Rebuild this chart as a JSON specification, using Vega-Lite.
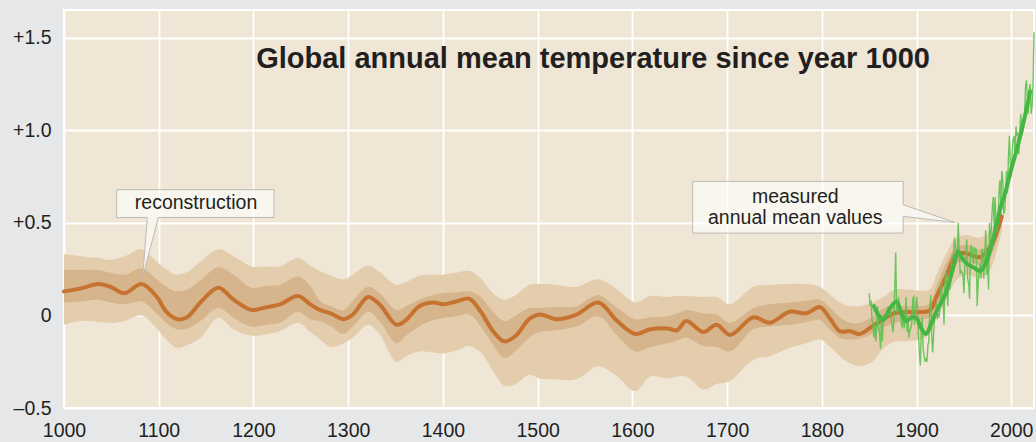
{
"$schema": "https://vega.github.io/schema/vega-lite/v6.json",
"width": 970, "height": 398,
"autosize": {"type": "none"},
"padding": {"left": 64, "top": 10, "right": 2, "bottom": 34},
"background": "#e6e7e8",
"config": {
  "view": {"fill": "#efe6d6", "stroke": "#ffffff", "strokeWidth": 2},
  "axis": {"labelFont": "Liberation Sans", "labelFontSize": 19.5, "labelColor": "#231f20", "gridColor": "#ffffff", "gridWidth": 1.8, "gridOpacity": 1, "ticks": false, "domain": false, "labelPadding": 13, "labelFlush": false, "labelOverlap": false}
},
"datasets": {
  "recon": [
    {"year":1000,"m":0.13,"ilo":0.07,"ihi":0.245,"olo":-0.05,"ohi":0.33},
    {"year":1017,"m":0.145,"ilo":0.075,"ihi":0.245,"olo":-0.03,"ohi":0.32},
    {"year":1036,"m":0.17,"ilo":0.085,"ihi":0.245,"olo":-0.035,"ohi":0.31},
    {"year":1049,"m":0.155,"ilo":0.07,"ihi":0.23,"olo":-0.04,"ohi":0.30},
    {"year":1064,"m":0.12,"ilo":0.06,"ihi":0.22,"olo":-0.03,"ohi":0.32},
    {"year":1082,"m":0.17,"ilo":0.075,"ihi":0.255,"olo":0.0,"ohi":0.357},
    {"year":1098,"m":0.10,"ilo":0.01,"ihi":0.195,"olo":-0.07,"ohi":0.29},
    {"year":1108,"m":0.02,"ilo":-0.04,"ihi":0.155,"olo":-0.13,"ohi":0.25},
    {"year":1119,"m":-0.02,"ilo":-0.075,"ihi":0.13,"olo":-0.175,"ohi":0.22},
    {"year":1130,"m":-0.01,"ilo":-0.07,"ihi":0.14,"olo":-0.16,"ohi":0.235},
    {"year":1144,"m":0.07,"ilo":-0.03,"ihi":0.19,"olo":-0.12,"ohi":0.29},
    {"year":1163,"m":0.15,"ilo":0.04,"ihi":0.26,"olo":-0.012,"ohi":0.357},
    {"year":1179,"m":0.085,"ilo":-0.012,"ihi":0.22,"olo":-0.075,"ohi":0.32},
    {"year":1198,"m":0.03,"ilo":-0.06,"ihi":0.15,"olo":-0.11,"ohi":0.265},
    {"year":1214,"m":0.045,"ilo":-0.05,"ihi":0.16,"olo":-0.10,"ohi":0.265},
    {"year":1228,"m":0.06,"ilo":-0.04,"ihi":0.165,"olo":-0.085,"ohi":0.265},
    {"year":1247,"m":0.105,"ilo":0.02,"ihi":0.21,"olo":-0.04,"ohi":0.31},
    {"year":1260,"m":0.06,"ilo":-0.02,"ihi":0.16,"olo":-0.09,"ohi":0.27},
    {"year":1270,"m":0.03,"ilo":-0.03,"ihi":0.08,"olo":-0.13,"ohi":0.24},
    {"year":1282,"m":0.01,"ilo":-0.06,"ihi":0.05,"olo":-0.17,"ohi":0.215},
    {"year":1295,"m":-0.02,"ilo":-0.10,"ihi":0.03,"olo":-0.15,"ohi":0.195},
    {"year":1305,"m":0.005,"ilo":-0.06,"ihi":0.08,"olo":-0.12,"ohi":0.22},
    {"year":1321,"m":0.10,"ilo":0.02,"ihi":0.155,"olo":-0.05,"ohi":0.27},
    {"year":1333,"m":0.06,"ilo":-0.03,"ihi":0.12,"olo":-0.10,"ohi":0.235},
    {"year":1351,"m":-0.05,"ilo":-0.15,"ihi":0.03,"olo":-0.25,"ohi":0.165},
    {"year":1361,"m":-0.025,"ilo":-0.11,"ihi":0.05,"olo":-0.22,"ohi":0.18},
    {"year":1375,"m":0.05,"ilo":-0.06,"ihi":0.085,"olo":-0.195,"ohi":0.215},
    {"year":1390,"m":0.07,"ilo":-0.025,"ihi":0.11,"olo":-0.20,"ohi":0.22},
    {"year":1400,"m":0.06,"ilo":-0.015,"ihi":0.12,"olo":-0.205,"ohi":0.22},
    {"year":1414,"m":0.075,"ilo":-0.005,"ihi":0.125,"olo":-0.19,"ohi":0.23},
    {"year":1428,"m":0.09,"ilo":0.005,"ihi":0.13,"olo":-0.165,"ohi":0.24},
    {"year":1440,"m":0.02,"ilo":-0.06,"ihi":0.10,"olo":-0.20,"ohi":0.20},
    {"year":1453,"m":-0.085,"ilo":-0.16,"ihi":0.02,"olo":-0.30,"ohi":0.12},
    {"year":1465,"m":-0.14,"ilo":-0.23,"ihi":-0.03,"olo":-0.38,"ohi":0.085},
    {"year":1477,"m":-0.11,"ilo":-0.19,"ihi":0.0,"olo":-0.37,"ohi":0.11},
    {"year":1491,"m":-0.02,"ilo":-0.12,"ihi":0.04,"olo":-0.32,"ohi":0.165},
    {"year":1502,"m":0.005,"ilo":-0.09,"ihi":0.04,"olo":-0.34,"ohi":0.17},
    {"year":1520,"m":-0.02,"ilo":-0.08,"ihi":0.045,"olo":-0.345,"ohi":0.165},
    {"year":1541,"m":0.005,"ilo":-0.06,"ihi":0.05,"olo":-0.345,"ohi":0.155},
    {"year":1564,"m":0.07,"ilo":-0.005,"ihi":0.11,"olo":-0.275,"ohi":0.195},
    {"year":1584,"m":-0.03,"ilo":-0.11,"ihi":0.04,"olo":-0.33,"ohi":0.14},
    {"year":1603,"m":-0.10,"ilo":-0.195,"ihi":-0.02,"olo":-0.41,"ohi":0.07},
    {"year":1619,"m":-0.075,"ilo":-0.17,"ihi":-0.01,"olo":-0.33,"ohi":0.105},
    {"year":1637,"m":-0.07,"ilo":-0.15,"ihi":-0.005,"olo":-0.34,"ohi":0.10},
    {"year":1647,"m":-0.08,"ilo":-0.135,"ihi":0.01,"olo":-0.33,"ohi":0.105},
    {"year":1657,"m":-0.03,"ilo":-0.12,"ihi":0.03,"olo":-0.33,"ohi":0.105},
    {"year":1675,"m":-0.09,"ilo":-0.165,"ihi":0.01,"olo":-0.40,"ohi":0.10},
    {"year":1689,"m":-0.05,"ilo":-0.17,"ihi":0.005,"olo":-0.37,"ohi":0.10},
    {"year":1703,"m":-0.105,"ilo":-0.195,"ihi":-0.04,"olo":-0.355,"ohi":0.06},
    {"year":1728,"m":-0.01,"ilo":-0.075,"ihi":0.04,"olo":-0.24,"ohi":0.155},
    {"year":1745,"m":-0.04,"ilo":-0.06,"ihi":0.06,"olo":-0.22,"ohi":0.165},
    {"year":1766,"m":0.02,"ilo":-0.05,"ihi":0.07,"olo":-0.175,"ohi":0.17},
    {"year":1784,"m":0.012,"ilo":-0.035,"ihi":0.08,"olo":-0.15,"ohi":0.17},
    {"year":1798,"m":0.045,"ilo":-0.025,"ihi":0.085,"olo":-0.13,"ohi":0.155},
    {"year":1809,"m":-0.02,"ilo":-0.08,"ihi":0.04,"olo":-0.17,"ohi":0.11},
    {"year":1819,"m":-0.085,"ilo":-0.12,"ihi":-0.01,"olo":-0.22,"ohi":0.07},
    {"year":1830,"m":-0.085,"ilo":-0.13,"ihi":-0.04,"olo":-0.26,"ohi":0.05},
    {"year":1840,"m":-0.10,"ilo":-0.125,"ihi":-0.04,"olo":-0.275,"ohi":0.05},
    {"year":1853,"m":-0.06,"ilo":-0.10,"ihi":-0.01,"olo":-0.25,"ohi":0.07},
    {"year":1865,"m":-0.02,"ilo":-0.065,"ihi":0.04,"olo":-0.18,"ohi":0.10},
    {"year":1877,"m":0.013,"ilo":-0.04,"ihi":0.05,"olo":-0.14,"ohi":0.14},
    {"year":1889,"m":0.018,"ilo":-0.03,"ihi":0.05,"olo":-0.14,"ohi":0.14},
    {"year":1903,"m":0.018,"ilo":-0.025,"ihi":0.05,"olo":-0.13,"ohi":0.135},
    {"year":1914,"m":0.027,"ilo":-0.01,"ihi":0.065,"olo":-0.10,"ohi":0.14},
    {"year":1921,"m":0.10,"ilo":0.04,"ihi":0.16,"olo":-0.02,"ohi":0.22},
    {"year":1932,"m":0.22,"ilo":0.15,"ihi":0.29,"olo":0.09,"ohi":0.34},
    {"year":1942,"m":0.33,"ilo":0.28,"ihi":0.37,"olo":0.19,"ohi":0.42},
    {"year":1953,"m":0.335,"ilo":0.29,"ihi":0.38,"olo":0.22,"ohi":0.435},
    {"year":1967,"m":0.315,"ilo":0.275,"ihi":0.355,"olo":0.20,"ohi":0.42},
    {"year":1978,"m":0.37,"ilo":0.32,"ihi":0.40,"olo":0.25,"ohi":0.46},
    {"year":1990,"m":0.535,"ilo":0.49,"ihi":0.56,"olo":0.46,"ohi":0.57}
  ],
  "annual": [
    {"year":1850,"t":0.12},{"year":1851,"t":0.05},{"year":1852,"t":0.08},{"year":1853,"t":-0.02},{"year":1854,"t":-0.05},
    {"year":1855,"t":-0.12},{"year":1856,"t":-0.05},{"year":1857,"t":-0.14},{"year":1858,"t":-0.06},{"year":1859,"t":0.05},
    {"year":1860,"t":-0.06},{"year":1861,"t":-0.10},{"year":1862,"t":-0.18},{"year":1863,"t":0.0},{"year":1864,"t":-0.14},
    {"year":1865,"t":0.0},{"year":1866,"t":-0.01},{"year":1867,"t":-0.03},{"year":1868,"t":0.0},{"year":1869,"t":0.01},
    {"year":1870,"t":0.05},{"year":1871,"t":0.0},{"year":1872,"t":0.02},{"year":1873,"t":0.01},{"year":1874,"t":-0.05},
    {"year":1875,"t":-0.09},{"year":1876,"t":-0.04},{"year":1877,"t":0.15},{"year":1878,"t":0.34},{"year":1879,"t":0.03},
    {"year":1880,"t":0.01},{"year":1881,"t":0.10},{"year":1882,"t":0.04},{"year":1883,"t":0.01},{"year":1884,"t":-0.05},
    {"year":1885,"t":-0.06},{"year":1886,"t":0.02},{"year":1887,"t":-0.07},{"year":1888,"t":-0.02},{"year":1889,"t":0.10},
    {"year":1890,"t":-0.09},{"year":1891,"t":-0.02},{"year":1892,"t":-0.12},{"year":1893,"t":-0.08},{"year":1894,"t":-0.07},
    {"year":1895,"t":-0.04},{"year":1896,"t":0.09},{"year":1897,"t":0.10},{"year":1898,"t":-0.05},{"year":1899,"t":0.04},
    {"year":1900,"t":0.10},{"year":1901,"t":0.04},{"year":1902,"t":-0.11},{"year":1903,"t":-0.20},{"year":1904,"t":-0.27},
    {"year":1905,"t":-0.09},{"year":1906,"t":-0.01},{"year":1907,"t":-0.18},{"year":1908,"t":-0.22},{"year":1909,"t":-0.25},
    {"year":1910,"t":-0.23},{"year":1911,"t":-0.25},{"year":1912,"t":-0.16},{"year":1913,"t":-0.14},{"year":1914,"t":0.04},
    {"year":1915,"t":0.11},{"year":1916,"t":-0.10},{"year":1917,"t":-0.20},{"year":1918,"t":-0.11},{"year":1919,"t":-0.01},
    {"year":1920,"t":0.0},{"year":1921,"t":0.07},{"year":1922,"t":-0.02},{"year":1923,"t":0.01},{"year":1924,"t":-0.01},
    {"year":1925,"t":0.07},{"year":1926,"t":0.18},{"year":1927,"t":0.09},{"year":1928,"t":0.09},{"year":1929,"t":-0.05},
    {"year":1930,"t":0.17},{"year":1931,"t":0.24},{"year":1932,"t":0.18},{"year":1933,"t":0.05},{"year":1934,"t":0.20},
    {"year":1935,"t":0.14},{"year":1936,"t":0.18},{"year":1937,"t":0.30},{"year":1938,"t":0.33},{"year":1939,"t":0.31},
    {"year":1940,"t":0.42},{"year":1941,"t":0.38},{"year":1942,"t":0.31},{"year":1943,"t":0.33},{"year":1944,"t":0.50},
    {"year":1945,"t":0.36},{"year":1946,"t":0.23},{"year":1947,"t":0.24},{"year":1948,"t":0.23},{"year":1949,"t":0.22},
    {"year":1950,"t":0.12},{"year":1951,"t":0.26},{"year":1952,"t":0.34},{"year":1953,"t":0.41},{"year":1954,"t":0.20},
    {"year":1955,"t":0.17},{"year":1956,"t":0.09},{"year":1957,"t":0.36},{"year":1958,"t":0.38},{"year":1959,"t":0.34},
    {"year":1960,"t":0.28},{"year":1961,"t":0.37},{"year":1962,"t":0.35},{"year":1963,"t":0.36},{"year":1964,"t":0.05},
    {"year":1965,"t":0.17},{"year":1966,"t":0.24},{"year":1967,"t":0.28},{"year":1968,"t":0.20},{"year":1969,"t":0.36},
    {"year":1970,"t":0.33},{"year":1971,"t":0.20},{"year":1972,"t":0.31},{"year":1973,"t":0.46},{"year":1974,"t":0.22},
    {"year":1975,"t":0.30},{"year":1976,"t":0.14},{"year":1977,"t":0.50},{"year":1978,"t":0.38},{"year":1979,"t":0.48},
    {"year":1980,"t":0.58},{"year":1981,"t":0.64},{"year":1982,"t":0.46},{"year":1983,"t":0.64},{"year":1984,"t":0.48},
    {"year":1985,"t":0.45},{"year":1986,"t":0.50},{"year":1987,"t":0.66},{"year":1988,"t":0.73},{"year":1989,"t":0.60},
    {"year":1990,"t":0.78},{"year":1991,"t":0.74},{"year":1992,"t":0.55},{"year":1993,"t":0.56},{"year":1994,"t":0.65},
    {"year":1995,"t":0.78},{"year":1996,"t":0.66},{"year":1997,"t":0.85},{"year":1998,"t":0.97},{"year":1999,"t":0.82},
    {"year":2000,"t":0.75},{"year":2001,"t":0.89},{"year":2002,"t":0.95},{"year":2003,"t":0.97},{"year":2004,"t":0.87},
    {"year":2005,"t":1.02},{"year":2006,"t":0.97},{"year":2007,"t":0.99},{"year":2008,"t":0.87},{"year":2009,"t":0.99},
    {"year":2010,"t":1.09},{"year":2011,"t":0.97},{"year":2012,"t":0.99},{"year":2013,"t":1.02},{"year":2014,"t":1.07},
    {"year":2015,"t":1.23},{"year":2016,"t":1.27},{"year":2017,"t":1.18},{"year":2018,"t":1.09},{"year":2019,"t":1.22},
    {"year":2020,"t":1.25},{"year":2021,"t":1.09},{"year":2022,"t":1.13},{"year":2023,"t":1.25},{"year":2024,"t":1.53}
  ],
  "smooth": [
    {"year":1855,"t":0.05},{"year":1860,"t":0.0},{"year":1865,"t":-0.025},{"year":1870,"t":0.02},{"year":1875,"t":0.06},
    {"year":1879,"t":0.075},{"year":1885,"t":0.0},{"year":1889,"t":-0.03},{"year":1895,"t":-0.01},{"year":1900,"t":-0.015},
    {"year":1905,"t":-0.07},{"year":1910,"t":-0.10},{"year":1915,"t":-0.05},{"year":1920,"t":0.01},{"year":1925,"t":0.06},
    {"year":1930,"t":0.11},{"year":1935,"t":0.19},{"year":1940,"t":0.28},{"year":1944,"t":0.345},{"year":1948,"t":0.31},
    {"year":1953,"t":0.28},{"year":1960,"t":0.26},{"year":1967,"t":0.24},{"year":1972,"t":0.27},{"year":1978,"t":0.355},
    {"year":1983,"t":0.46},{"year":1988,"t":0.57},{"year":1994,"t":0.67},{"year":2000,"t":0.79},{"year":2005,"t":0.88},
    {"year":2010,"t":0.98},{"year":2015,"t":1.09},{"year":2020,"t":1.21}
  ],
  "boxes": [
    {"x1":1055.6,"x2":1221.7,"y1":0.529,"y2":0.679},
    {"x1":1663.7,"x2":1886.0,"y1":0.445,"y2":0.724}
  ],
  "ptrH": [
    {"v":0.208,"a":1083.1,"b":1083.1},
    {"v":0.534,"a":1087.9,"b":1099.6}
  ],
  "ptrV": [
    {"x":1884.5,"lo":0.535,"hi":0.598},
    {"x":1940.6,"lo":0.502,"hi":0.502}
  ],
  "edges": [
    {"x1":1083.1,"y1":0.208,"x2":1087.9,"y2":0.529},
    {"x1":1083.1,"y1":0.208,"x2":1099.6,"y2":0.529},
    {"x1":1886.0,"y1":0.598,"x2":1940.6,"y2":0.502},
    {"x1":1886.0,"y1":0.535,"x2":1940.6,"y2":0.502}
  ],
  "notes": [
    {"x":1139.4,"y":0.575,"label":"reconstruction"},
    {"x":1772,"y":0.607,"label":"measured"},
    {"x":1772,"y":0.494,"label":"annual mean values"}
  ],
  "heading": [
    {"x":1558.5,"y":1.335,"label":"Global annual mean temperature since year 1000"}
  ]
},
"layer": [
  {
    "data": {"name": "recon"},
    "mark": {"type": "area", "interpolate": "catmull-rom", "color": "#e4cdac"},
    "encoding": {
      "x": {"field": "year", "type": "quantitative", "scale": {"domain": [1000, 2024], "nice": false, "zero": false},
            "axis": {"title": null, "values": [1000,1100,1200,1300,1400,1500,1600,1700,1800,1900,2000], "format": "d"}},
      "y": {"field": "olo", "type": "quantitative", "scale": {"domain": [-0.5, 1.65], "nice": false, "zero": false},
            "axis": {"title": null, "values": [-0.5, 0, 0.5, 1, 1.5], "labelExpr": "datum.value > 0 ? '+' + format(datum.value, '.1f') : (datum.value < 0 ? '–' + format(-datum.value, '.1f') : '0')"}},
      "y2": {"field": "ohi"}
    }
  },
  {
    "data": {"name": "recon"},
    "mark": {"type": "area", "interpolate": "catmull-rom", "color": "#d6b58d"},
    "encoding": {
      "x": {"field": "year", "type": "quantitative", "scale": {"domain": [1000, 2024], "nice": false, "zero": false},
            "axis": {"title": null, "values": [1000,1100,1200,1300,1400,1500,1600,1700,1800,1900,2000], "format": "d"}},
      "y": {"field": "ilo", "type": "quantitative", "scale": {"domain": [-0.5, 1.65], "nice": false, "zero": false},
            "axis": {"title": null, "values": [-0.5, 0, 0.5, 1, 1.5], "labelExpr": "datum.value > 0 ? '+' + format(datum.value, '.1f') : (datum.value < 0 ? '–' + format(-datum.value, '.1f') : '0')"}},
      "y2": {"field": "ihi"}
    }
  },
  {
    "data": {"name": "recon"},
    "mark": {"type": "line", "interpolate": "catmull-rom", "color": "#c67330", "strokeWidth": 4, "strokeCap": "round"},
    "encoding": {
      "x": {"field": "year", "type": "quantitative", "scale": {"domain": [1000, 2024], "nice": false, "zero": false},
            "axis": {"title": null, "values": [1000,1100,1200,1300,1400,1500,1600,1700,1800,1900,2000], "format": "d"}},
      "y": {"field": "m", "type": "quantitative", "scale": {"domain": [-0.5, 1.65], "nice": false, "zero": false},
            "axis": {"title": null, "values": [-0.5, 0, 0.5, 1, 1.5], "labelExpr": "datum.value > 0 ? '+' + format(datum.value, '.1f') : (datum.value < 0 ? '–' + format(-datum.value, '.1f') : '0')"}}
    }
  },
  {
    "data": {"name": "annual"},
    "mark": {"type": "line", "color": "#5fc150", "strokeWidth": 1.4, "opacity": 0.9},
    "encoding": {
      "x": {"field": "year", "type": "quantitative", "scale": {"domain": [1000, 2024], "nice": false, "zero": false},
            "axis": {"title": null, "values": [1000,1100,1200,1300,1400,1500,1600,1700,1800,1900,2000], "format": "d"}},
      "y": {"field": "t", "type": "quantitative", "scale": {"domain": [-0.5, 1.65], "nice": false, "zero": false},
            "axis": {"title": null, "values": [-0.5, 0, 0.5, 1, 1.5], "labelExpr": "datum.value > 0 ? '+' + format(datum.value, '.1f') : (datum.value < 0 ? '–' + format(-datum.value, '.1f') : '0')"}}
    }
  },
  {
    "data": {"name": "smooth"},
    "mark": {"type": "line", "interpolate": "catmull-rom", "color": "#45b644", "strokeWidth": 4, "strokeCap": "round"},
    "encoding": {
      "x": {"field": "year", "type": "quantitative", "scale": {"domain": [1000, 2024], "nice": false, "zero": false},
            "axis": {"title": null, "values": [1000,1100,1200,1300,1400,1500,1600,1700,1800,1900,2000], "format": "d"}},
      "y": {"field": "t", "type": "quantitative", "scale": {"domain": [-0.5, 1.65], "nice": false, "zero": false},
            "axis": {"title": null, "values": [-0.5, 0, 0.5, 1, 1.5], "labelExpr": "datum.value > 0 ? '+' + format(datum.value, '.1f') : (datum.value < 0 ? '–' + format(-datum.value, '.1f') : '0')"}}
    }
  },
  {
    "data": {"name": "boxes"},
    "mark": {"type": "rect", "fill": "#ffffff", "fillOpacity": 0.62, "stroke": "#bdbab4", "strokeWidth": 1},
    "encoding": {
      "x": {"field": "x1", "type": "quantitative", "scale": {"domain": [1000, 2024], "nice": false, "zero": false},
            "axis": {"title": null, "values": [1000,1100,1200,1300,1400,1500,1600,1700,1800,1900,2000], "format": "d"}},
      "x2": {"field": "x2"},
      "y": {"field": "y1", "type": "quantitative", "scale": {"domain": [-0.5, 1.65], "nice": false, "zero": false},
            "axis": {"title": null, "values": [-0.5, 0, 0.5, 1, 1.5], "labelExpr": "datum.value > 0 ? '+' + format(datum.value, '.1f') : (datum.value < 0 ? '–' + format(-datum.value, '.1f') : '0')"}},
      "y2": {"field": "y2"}
    }
  },
  {
    "data": {"name": "ptrH"},
    "mark": {"type": "area", "orient": "horizontal", "fill": "#f8f4ee"},
    "encoding": {
      "y": {"field": "v", "type": "quantitative", "scale": {"domain": [-0.5, 1.65], "nice": false, "zero": false},
            "axis": {"title": null, "values": [-0.5, 0, 0.5, 1, 1.5], "labelExpr": "datum.value > 0 ? '+' + format(datum.value, '.1f') : (datum.value < 0 ? '–' + format(-datum.value, '.1f') : '0')"}},
      "x": {"field": "a", "type": "quantitative", "scale": {"domain": [1000, 2024], "nice": false, "zero": false},
            "axis": {"title": null, "values": [1000,1100,1200,1300,1400,1500,1600,1700,1800,1900,2000], "format": "d"}},
      "x2": {"field": "b"}
    }
  },
  {
    "data": {"name": "ptrV"},
    "mark": {"type": "area", "orient": "vertical", "fill": "#f8f4ee"},
    "encoding": {
      "x": {"field": "x", "type": "quantitative", "scale": {"domain": [1000, 2024], "nice": false, "zero": false},
            "axis": {"title": null, "values": [1000,1100,1200,1300,1400,1500,1600,1700,1800,1900,2000], "format": "d"}},
      "y": {"field": "lo", "type": "quantitative", "scale": {"domain": [-0.5, 1.65], "nice": false, "zero": false},
            "axis": {"title": null, "values": [-0.5, 0, 0.5, 1, 1.5], "labelExpr": "datum.value > 0 ? '+' + format(datum.value, '.1f') : (datum.value < 0 ? '–' + format(-datum.value, '.1f') : '0')"}},
      "y2": {"field": "hi"}
    }
  },
  {
    "data": {"name": "edges"},
    "mark": {"type": "rule", "color": "#bdbab4", "strokeWidth": 1},
    "encoding": {
      "x": {"field": "x1", "type": "quantitative", "scale": {"domain": [1000, 2024], "nice": false, "zero": false},
            "axis": {"title": null, "values": [1000,1100,1200,1300,1400,1500,1600,1700,1800,1900,2000], "format": "d"}},
      "x2": {"field": "x2"},
      "y": {"field": "y1", "type": "quantitative", "scale": {"domain": [-0.5, 1.65], "nice": false, "zero": false},
            "axis": {"title": null, "values": [-0.5, 0, 0.5, 1, 1.5], "labelExpr": "datum.value > 0 ? '+' + format(datum.value, '.1f') : (datum.value < 0 ? '–' + format(-datum.value, '.1f') : '0')"}},
      "y2": {"field": "y2"}
    }
  },
  {
    "data": {"name": "notes"},
    "mark": {"type": "text", "font": "Liberation Sans", "fontSize": 19.5, "color": "#231f20", "align": "center", "baseline": "alphabetic"},
    "encoding": {
      "x": {"field": "x", "type": "quantitative", "scale": {"domain": [1000, 2024], "nice": false, "zero": false},
            "axis": {"title": null, "values": [1000,1100,1200,1300,1400,1500,1600,1700,1800,1900,2000], "format": "d"}},
      "y": {"field": "y", "type": "quantitative", "scale": {"domain": [-0.5, 1.65], "nice": false, "zero": false},
            "axis": {"title": null, "values": [-0.5, 0, 0.5, 1, 1.5], "labelExpr": "datum.value > 0 ? '+' + format(datum.value, '.1f') : (datum.value < 0 ? '–' + format(-datum.value, '.1f') : '0')"}},
      "text": {"field": "label"}
    }
  },
  {
    "data": {"name": "heading"},
    "mark": {"type": "text", "font": "Liberation Sans", "fontSize": 29, "fontWeight": "bold", "color": "#231f20", "align": "center", "baseline": "alphabetic"},
    "encoding": {
      "x": {"field": "x", "type": "quantitative", "scale": {"domain": [1000, 2024], "nice": false, "zero": false},
            "axis": {"title": null, "values": [1000,1100,1200,1300,1400,1500,1600,1700,1800,1900,2000], "format": "d"}},
      "y": {"field": "y", "type": "quantitative", "scale": {"domain": [-0.5, 1.65], "nice": false, "zero": false},
            "axis": {"title": null, "values": [-0.5, 0, 0.5, 1, 1.5], "labelExpr": "datum.value > 0 ? '+' + format(datum.value, '.1f') : (datum.value < 0 ? '–' + format(-datum.value, '.1f') : '0')"}},
      "text": {"field": "label"}
    }
  }
]
}
